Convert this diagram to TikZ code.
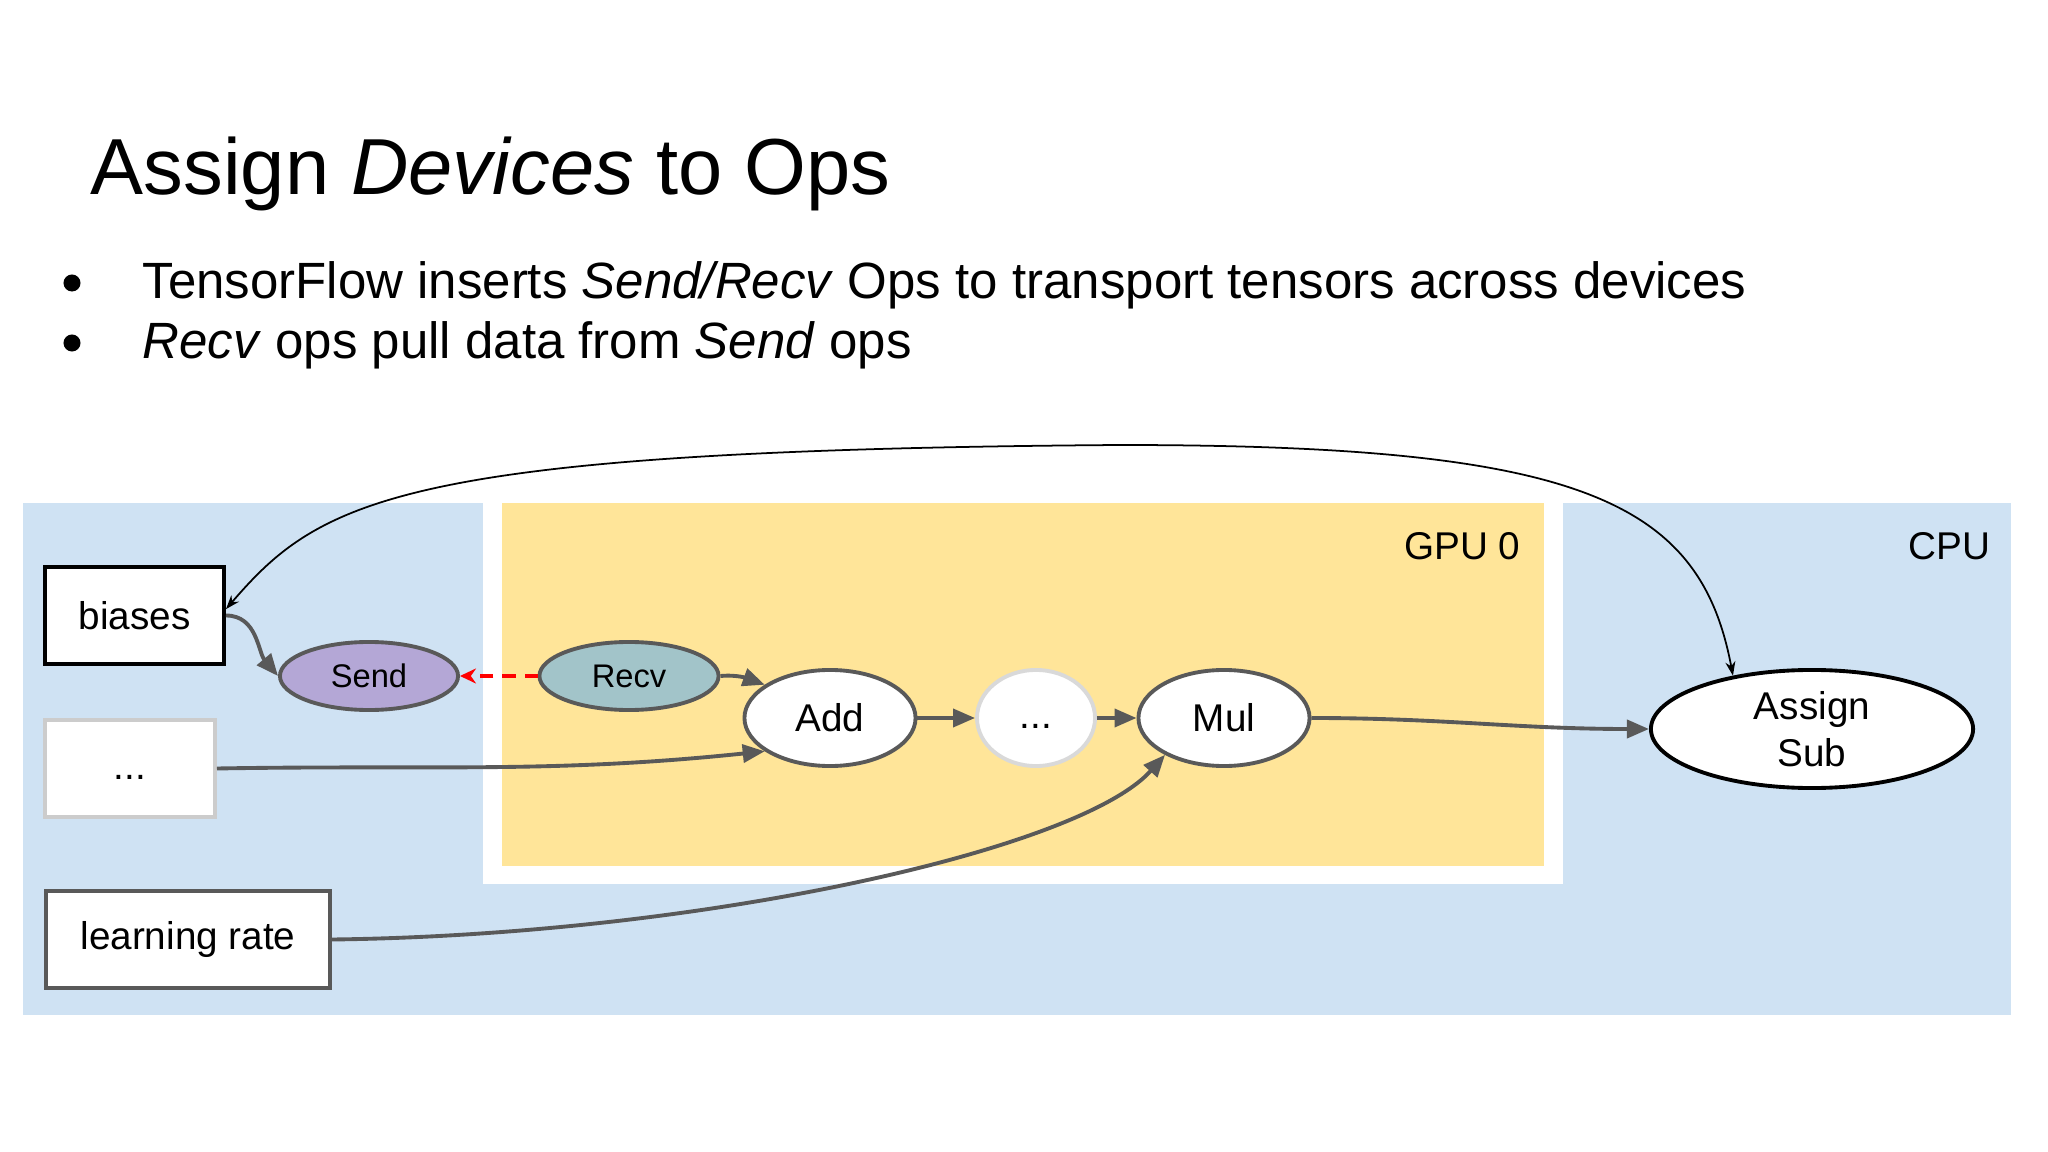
\documentclass[tikz,border=0pt]{standalone}
\usepackage{fontspec}
\setmainfont{Liberation Sans}
\usetikzlibrary{arrows.meta,shapes.geometric}
\definecolor{cpublue}{HTML}{CFE2F3}
\definecolor{gpuyellow}{HTML}{FFE599}
\definecolor{sendpurple}{HTML}{B4A7D6}
\definecolor{recvteal}{HTML}{A2C4C9}
\definecolor{edgegray}{HTML}{595959}
\definecolor{lightgray}{HTML}{CCCCCC}
\definecolor{paleborder}{HTML}{D9D9D9}
\begin{document}
\begin{tikzpicture}[x=0.01cm,y=-0.01cm,
  lbl/.style={font=\fontsize{11pt}{13.2pt}\selectfont, align=center},
  dotlbl/.style={text height=8pt, text depth=2pt},
  boxnode/.style={lbl, rectangle, fill=white, inner sep=0pt, line width=1.1pt},
  opnode/.style={lbl, ellipse, fill=white, draw=edgegray, inner sep=0pt, line width=1.1pt},
  flow/.style={draw=edgegray, line width=1.1pt, -{Triangle[length=0.22cm,width=0.18cm]}},
  thinflow/.style={draw=black, line width=0.5pt,
     {Stealth[length=0.14cm,width=0.1cm]}-{Stealth[length=0.14cm,width=0.1cm]}},
  recvflow/.style={draw=red, line width=1.2pt, dash pattern=on 0.13cm off 0.09cm,
     -{Stealth[length=0.16cm,width=0.15cm]}}]
\path[use as bounding box] (0,0) rectangle (2048,1152);
\fill[white] (0,0) rectangle (2048,1152);

% title and bullets
\node[anchor=base west, inner sep=0pt, font=\fontsize{22.6pt}{27pt}\selectfont] (title) at (90,195)
  {Assign \textit{Devices} to Ops};
\fill (72,283) circle (0.085cm);
\fill (72,343) circle (0.085cm);
\node[anchor=base west, inner sep=0pt, font=\fontsize{14.5pt}{17pt}\selectfont] (bul1) at (142,299)
  {TensorFlow inserts \textit{Send/Recv} Ops to transport tensors across devices};
\node[anchor=base west, inner sep=0pt, font=\fontsize{14.5pt}{17pt}\selectfont] (bul2) at (142,359)
  {\textit{Recv} ops pull data from \textit{Send} ops};

% device regions
\fill[cpublue] (23,503) rectangle (2011,1015);
\fill[white] (483,503) rectangle (1563,884);
\fill[gpuyellow] (502,503) rectangle (1544,866);
\node[lbl, anchor=base east, inner sep=0pt] (gpulabel) at (1521,560) {GPU 0};
\node[lbl, anchor=base east, inner sep=0pt] (cpulabel) at (1991,560) {CPU};

% nodes
\node[boxnode, draw=black, minimum width=1.79cm, minimum height=0.97cm] (biases) at (134.5,615.5) {biases};
\node[boxnode, dotlbl, draw=lightgray, minimum width=1.70cm, minimum height=0.97cm] (dotsbox) at (130,768.5) {...};
\node[boxnode, draw=edgegray, minimum width=2.84cm, minimum height=0.97cm] (lr) at (188,939.5) {learning rate};

\node[opnode, fill=sendpurple, minimum width=1.78cm, minimum height=0.68cm,
      font=\fontsize{9.3pt}{11pt}\selectfont] (send) at (369,676) {Send};
\node[opnode, fill=recvteal, minimum width=1.79cm, minimum height=0.68cm,
      font=\fontsize{9.3pt}{11pt}\selectfont] (recv) at (629,676) {Recv};
\node[opnode, minimum width=1.71cm, minimum height=0.96cm] (add) at (830,718) {Add};
\node[opnode, dotlbl, draw=paleborder, minimum width=1.18cm, minimum height=0.96cm] (dots) at (1036,718) {...};
\node[opnode, minimum width=1.71cm, minimum height=0.96cm] (mul) at (1224,718) {Mul};
\node[opnode, draw=black, minimum width=3.22cm, minimum height=1.18cm] (assign) at (1812,729) {Assign\\Sub};

% connectors
\draw[flow] (biases.east) to[out=0,in=130] (send.west);
\draw[recvflow] (recv.west) -- (send.east);
\draw[flow] (recv.east) to[out=5,in=160] (add.153);
\draw[flow] (dotsbox.east) to[out=1,in=186] (add.207);
\draw[flow] (add.east) -- (dots.west);
\draw[flow] (dots.east) -- (mul.west);
\draw[flow] (mul.east) to[out=0,in=180] (assign.west);
\draw[flow] (lr.east) .. controls (700,935) and (1080,850) .. (mul.212);
\draw[thinflow] (biases.4) .. controls (320,500) and (400,450) .. (1120,445)
  .. controls (1580,445) and (1700,500) .. (assign.146);
\end{tikzpicture}
\end{document}
